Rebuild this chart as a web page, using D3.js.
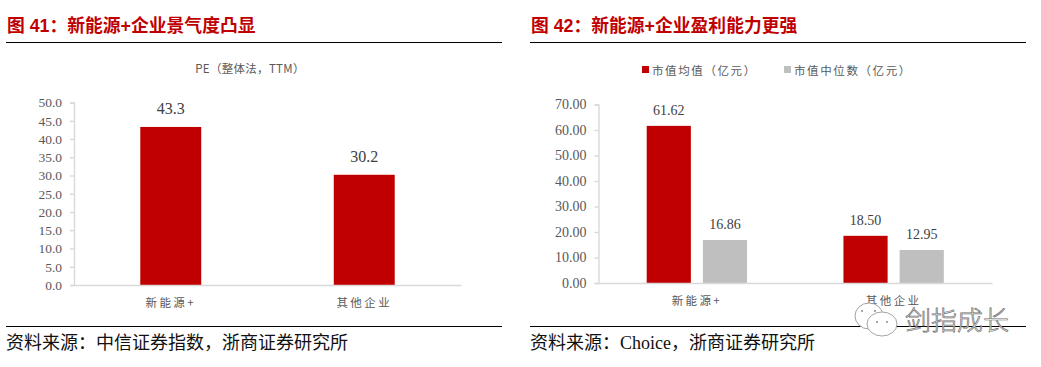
<!DOCTYPE html>
<html>
<head>
<meta charset="utf-8">
<script src="https://cdn.jsdelivr.net/npm/d3@7"></script>
<style>
  html, body { margin: 0; padding: 0; background: #fff; }
  svg { display: block; }
  .tick text { font-family: "Liberation Serif", serif; fill: #595959; }
</style>
</head>
<body>
<div id="chart"></div>
<script>
// left panel
const leftTitle = "图 41\uFF1A新能源+企业景气度凸显";
const leftSubtitle = "PE\uFF08整体法\uFF0CTTM\uFF09";
const leftSource = "资料来源\uFF1A中信证券指数\uFF0C浙商证券研究所";
const leftCategories = ["新能源+", "其他企业"];
const leftValues = [43.3, 30.2];
const leftTicks = [0, 5, 10, 15, 20, 25, 30, 35, 40, 45, 50];

// right panel
const rightTitle = "图 42\uFF1A新能源+企业盈利能力更强";
const rightSource = "资料来源\uFF1AChoice\uFF0C浙商证券研究所";
const rightCategories = ["新能源+", "其他企业"];
const rightSeriesNames = ["市值均值\uFF08亿元\uFF09", "市值中位数\uFF08亿元\uFF09"];
const rightMean = [61.62, 18.5];
const rightMedian = [16.86, 12.95];
const rightTicks = [0, 10, 20, 30, 40, 50, 60, 70];

const watermark = "剑指成长";

const RED = "#c00000";
const GREY = "#bfbfbf";
const AXIS = "#d9d9d9";
const TEXT = "#595959";
const CJK = '"Noto Sans CJK SC", sans-serif';
const SERIF = '"Liberation Serif", serif';

const svg = d3.select("#chart").append("svg").attr("width", 1041).attr("height", 367);
svg.append("rect").attr("width", 1041).attr("height", 367).attr("fill", "#fff");

// title, the two black rules and the source line
const frame = (x0, x1, title, source) => {
  svg.append("text").attr("x", x0 + 1).attr("y", 32)
    .style("font-family", '"Liberation Sans", ' + CJK).style("font-size", "17.8px").style("font-weight", "bold")
    .attr("fill", RED).text(title);
  [42.5, 326.5].forEach((y) => {
    svg.append("line").attr("x1", x0).attr("x2", x1).attr("y1", y).attr("y2", y)
      .attr("stroke", "#000").attr("stroke-width", 1);
  });
  svg.append("text").attr("x", x0).attr("y", 349)
    .style("font-family", '"Liberation Serif", ' + CJK).style("font-size", "18px").attr("fill", "#111").text(source);
};

const drawAxes = (g, x, y, ticks, fmt, tickFont) => {
  const yAxis = g.append("g").attr("transform", `translate(${x.range()[0]},0)`)
    .call(d3.axisLeft(y).tickValues(ticks).tickFormat(fmt).tickSize(4).tickPadding(8));
  yAxis.selectAll("text").style("font-size", tickFont);
  const xAxis = g.append("g").attr("transform", `translate(0,${y.range()[0]})`)
    .call(d3.axisBottom(x).tickSize(0).tickPadding(14));
  xAxis.selectAll("text")
    .style("font-family", CJK).style("font-size", "11.5px").style("letter-spacing", "2.4px")
    .attr("fill", TEXT);
  g.selectAll(".domain, .tick line").attr("stroke", AXIS).attr("stroke-width", 1.4);
};

// ===== left =====
frame(6, 502, leftTitle, leftSource);

const xL = d3.scaleBand().domain(leftCategories).range([74, 461]).paddingInner(0.685).paddingOuter(0.3425);
const yL = d3.scaleLinear().domain([0, 50]).range([285, 102.5]);
const left = svg.append("g");

left.selectAll("rect").data(leftValues).join("rect")
  .attr("x", (d, i) => xL(leftCategories[i]))
  .attr("width", xL.bandwidth())
  .attr("y", (d) => yL(d))
  .attr("height", (d) => yL(0) - yL(d))
  .attr("fill", RED);

left.selectAll("text.val").data(leftValues).join("text").attr("class", "val")
  .attr("x", (d, i) => xL(leftCategories[i]) + xL.bandwidth() / 2)
  .attr("y", (d) => yL(d) - 13)
  .attr("text-anchor", "middle")
  .style("font-family", SERIF).style("font-size", "16px").attr("fill", "#404040")
  .text((d) => d.toFixed(1));

drawAxes(left, xL, yL, leftTicks, d3.format(".1f"), "13.5px");

svg.append("text").attr("x", 250).attr("y", 73).attr("text-anchor", "middle")
  .style("font-family", CJK).style("font-size", "11.5px").style("letter-spacing", "0.3px")
  .attr("fill", TEXT).text(leftSubtitle);

// ===== right =====
frame(530, 1026, rightTitle, rightSource);

const xR = d3.scaleBand().domain(rightCategories).range([598.5, 992]).paddingInner(0.49).paddingOuter(0.245);
const yR = d3.scaleLinear().domain([0, 70]).range([283, 104.5]);
const xSub = d3.scaleBand().domain([0, 1]).range([0, xR.bandwidth()]).paddingInner(0.214);
const right = svg.append("g");

[rightMean, rightMedian].forEach((vals, s) => {
  const color = s === 0 ? RED : GREY;
  const colX = (i) => xR(rightCategories[i]) + xSub(s);
  right.append("g").selectAll("rect").data(vals).join("rect")
    .attr("x", (d, i) => colX(i))
    .attr("width", xSub.bandwidth())
    .attr("y", (d) => yR(d))
    .attr("height", (d) => yR(0) - yR(d))
    .attr("fill", color);
  right.append("g").selectAll("text").data(vals).join("text")
    .attr("x", (d, i) => colX(i) + xSub.bandwidth() / 2)
    .attr("y", (d) => yR(d) - 11)
    .attr("text-anchor", "middle")
    .style("font-family", SERIF).style("font-size", "14px").attr("fill", "#404040")
    .text((d) => d.toFixed(2));
});

drawAxes(right, xR, yR, rightTicks, d3.format(".2f"), "14px");

// legend
const legendX = [642, 784];
rightSeriesNames.forEach((name, i) => {
  svg.append("rect").attr("x", legendX[i]).attr("y", 66).attr("width", 7).attr("height", 7)
    .attr("fill", i === 0 ? RED : GREY);
  svg.append("text").attr("x", legendX[i] + 10).attr("y", 74.5)
    .style("font-family", CJK).style("font-size", "11.5px").style("letter-spacing", "1.6px")
    .attr("fill", TEXT).text(name);
});

// wechat watermark over the right panel
const wm = svg.append("g").attr("fill", "#fff").attr("stroke", "#8c8c8c").attr("stroke-width", 0.8);
wm.append("ellipse").attr("cx", 869).attr("cy", 316).attr("rx", 14).attr("ry", 13);
wm.append("ellipse").attr("cx", 882).attr("cy", 324).attr("rx", 15).attr("ry", 12);
[[862, 311], [875, 311], [877, 322], [887, 322]].forEach(([cx, cy]) => {
  wm.append("circle").attr("cx", cx).attr("cy", cy).attr("r", 1).attr("fill", "#8c8c8c").attr("stroke", "none");
});
svg.append("text").attr("x", 905).attr("y", 330)
  .style("font-family", CJK).style("font-size", "26px").style("font-weight", 300)
  .attr("fill", "#fff").attr("stroke", "#6e6e6e").attr("stroke-width", 0.7)
  .text(watermark);
</script>
</body>
</html>
